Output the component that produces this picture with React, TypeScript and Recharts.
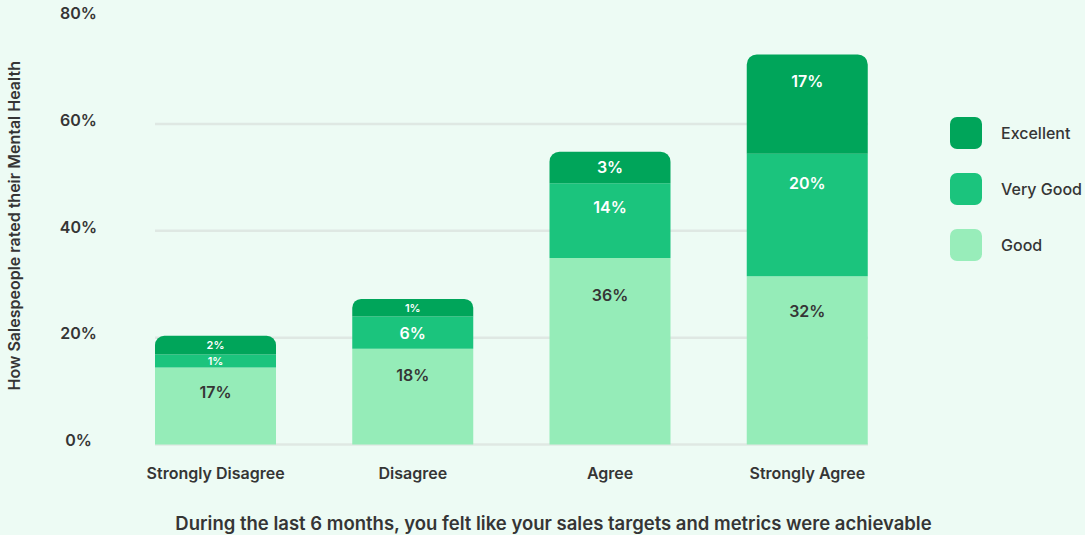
import React from 'react';
import { Bar, BarChart, CartesianGrid, Label, LabelList, Legend, XAxis, YAxis } from 'recharts';

const categories = ['Strongly Disagree', 'Disagree', 'Agree', 'Strongly Agree'];

// bar segment heights (percent)
const goodValues = [14.4, 17.9, 34.9, 31.5];
const veryGoodValues = [2.45, 6.05, 14.0, 22.9];
const excellentValues = [3.5, 3.3, 5.9, 18.6];

// labels printed on the segments
const goodLabels = ['17%', '18%', '36%', '32%'];
const veryGoodLabels = ['1%', '6%', '14%', '20%'];
const excellentLabels = ['2%', '1%', '3%', '17%'];

const yTicks = [0, 20, 40, 60, 80];
const gridValues = [0, 20, 40, 60];

const COLORS = {
  excellent: '#00a55a',
  veryGood: '#1bc47d',
  good: '#95ecb8',
};

const legendItems = [
  { name: 'Excellent', color: COLORS.excellent },
  { name: 'Very Good', color: COLORS.veryGood },
  { name: 'Good', color: '#98edba' },
];

const FONT = 'Inter, "Noto Sans", sans-serif';
const TEXT = '#353535';

const data = categories.map((name, i) => ({
  name,
  good: goodValues[i],
  veryGood: veryGoodValues[i],
  excellent: excellentValues[i],
  goodLabel: goodLabels[i],
  veryGoodLabel: veryGoodLabels[i],
  excellentLabel: excellentLabels[i],
}));

const segmentLabel = (fill: string) => (props: any) => {
  const { x, y, width, height, value } = props;
  const small = height < 25;
  const cy = y + Math.min(height / 2, 15 + height * 0.12);
  return (
    <text
      x={x + width / 2}
      y={cy}
      textAnchor='middle'
      dominantBaseline='central'
      fill={fill}
      fontSize={small ? 11 : 16}
      fontWeight={600}
      fontFamily={FONT}
    >
      {value}
    </text>
  );
};

const YTick = (props: any) => {
  const { y, payload } = props;
  return (
    <text x={78.5} y={y + 1.8} textAnchor='middle' fill={TEXT} fontSize={16} fontWeight={600} fontFamily={FONT}>
      {`${payload.value}%`}
    </text>
  );
};

const XTick = (props: any) => {
  const { x, y, payload } = props;
  return (
    <text x={x} y={y + 34.5} textAnchor='middle' fill={TEXT} fontSize={16} fontWeight={600} fontFamily={FONT}>
      {payload.value}
    </text>
  );
};

const LegendBox = () => (
  <div style={{ display: 'flex', flexDirection: 'column', gap: 24 }}>
    {legendItems.map((item) => (
      <div key={item.name} style={{ display: 'flex', alignItems: 'center', height: 32 }}>
        <div style={{ width: 32, height: 32, borderRadius: 7, background: item.color }} />
        <span
          style={{
            marginLeft: 19,
            fontFamily: FONT,
            fontSize: 16,
            fontWeight: 500,
            color: TEXT,
            whiteSpace: 'nowrap',
          }}
        >
          {item.name}
        </span>
      </div>
    ))}
  </div>
);

export default function App() {
  return (
    <div style={{ position: 'absolute', left: 0, top: 0, width: 1085, height: 535, background: '#edfbf4' }}>
      <BarChart
        width={1085}
        height={535}
        data={data}
        margin={{ top: 17, right: 217, bottom: 0, left: 0 }}
        barSize={121}
      >
        <CartesianGrid vertical={false} horizontalValues={gridValues} stroke='#dfe8e3' strokeWidth={2.5} />
        <XAxis
          dataKey='name'
          height={90.5}
          axisLine={false}
          tickLine={false}
          tickSize={0}
          tickMargin={0}
          padding={{ left: -38, right: -38 }}
          tick={<XTick />}
          interval={0}
        >
          <Label
            value='During the last 6 months, you felt like your sales targets and metrics were achievable'
            position='insideBottom'
            offset={5}
            dx={42}
            fill={TEXT}
            fontSize={18.5}
            fontWeight={600}
            fontFamily={FONT}
          />
        </XAxis>
        <YAxis
          width={155}
          domain={[0, 80]}
          ticks={yTicks}
          axisLine={false}
          tickLine={false}
          tick={<YTick />}
        >
          <Label
            value='How Salespeople rated their Mental Health'
            angle={-90}
            position='center'
            dx={-63}
            dy={-5}
            fill={TEXT}
            fontSize={16}
            fontWeight={600}
            fontFamily={FONT}
          />
        </YAxis>
        <Legend
          layout='vertical'
          align='center'
          verticalAlign='middle'
          wrapperStyle={{ left: 950, top: 117, width: 135 }}
          content={<LegendBox />}
        />
        <Bar dataKey='good' stackId='a' fill={COLORS.good} isAnimationActive={false}>
          <LabelList dataKey='goodLabel' content={segmentLabel(TEXT)} />
        </Bar>
        <Bar dataKey='veryGood' stackId='a' fill={COLORS.veryGood} isAnimationActive={false}>
          <LabelList dataKey='veryGoodLabel' content={segmentLabel('#ffffff')} />
        </Bar>
        <Bar dataKey='excellent' stackId='a' fill={COLORS.excellent} radius={[10, 10, 0, 0]} isAnimationActive={false}>
          <LabelList dataKey='excellentLabel' content={segmentLabel('#ffffff')} />
        </Bar>
      </BarChart>
    </div>
  );
}
